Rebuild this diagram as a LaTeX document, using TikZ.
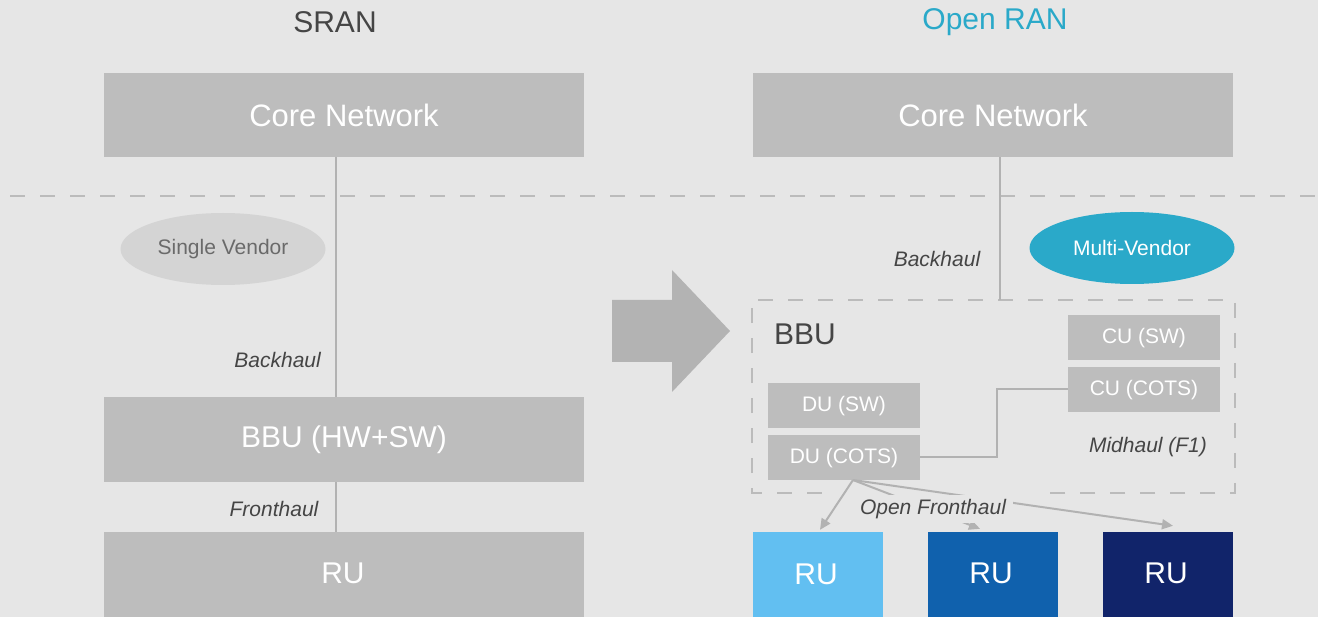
\documentclass[tikz,border=0pt]{standalone}
\usepackage{fontspec}
\setmainfont{Liberation Sans}
\usetikzlibrary{shapes.geometric,arrows.meta,calc}
\definecolor{bg}{HTML}{E6E6E6}
\definecolor{boxgray}{HTML}{BDBDBD}
\definecolor{linegray}{HTML}{B2B2B2}
\definecolor{dashgray}{HTML}{BBBBBB}
\definecolor{txtdark}{HTML}{454545}
\definecolor{ellgray}{HTML}{D4D4D4}
\definecolor{ellgraytxt}{HTML}{6A6A6A}
\definecolor{teal}{HTML}{2AA9C9}
\definecolor{arrowgray}{HTML}{B3B3B3}
\definecolor{ruA}{HTML}{62BFF1}
\definecolor{ruB}{HTML}{1061AD}
\definecolor{ruC}{HTML}{11246A}
\tikzset{
  big/.style={font=\fontsize{30}{36}\selectfont},
  small/.style={font=\fontsize{21}{25}\selectfont},
  label/.style={font=\fontsize{21}{25}\selectfont\itshape, text=txtdark, inner sep=0pt},
  greybox/.style={fill=boxgray, draw=none, text=white, inner sep=0pt},
  smallbox/.style={greybox, small, minimum width=152pt, minimum height=45pt, text height=15pt, text depth=3pt},
  rubox/.style={text=white, big, minimum width=130pt, minimum height=90pt, inner sep=0pt},
  conn/.style={draw=linegray, line width=2pt},
  fharrow/.style={draw=linegray, line width=2pt, -{Triangle[length=11pt,width=10pt]}},
  dashline/.style={draw=dashgray, line width=2pt, dash pattern=on 15pt off 15pt},
}
\begin{document}
\begin{tikzpicture}[x=1pt,y=-1pt]
\fill[bg] (0,0) rectangle (1318,617);
\useasboundingbox (0,0) rectangle (1318,617);

% titles
\node[big, text=txtdark] (tL) at (335,22) {SRAN};
\node[big, text=teal] (tR) at (995,22) {Open RAN};

% dashed separator
\draw[dashline] (10,196) -- (1318,196);

% left column
\node[greybox, font=\fontsize{31}{36}\selectfont, minimum width=480pt, minimum height=84pt] (coreL) at (344,115) {Core Network};
\node[ellipse, fill=ellgray, text=ellgraytxt, small, minimum width=205pt, minimum height=72pt, inner sep=0pt] (sv) at (223,249) {Single Vendor};
\node[greybox, big, minimum width=480pt, minimum height=85pt] (bbuL) at (344,439.5) {BBU (HW+SW)};
\node[greybox, minimum width=480pt, minimum height=90pt] (ruL) at (344,577) {};
\node[big, text=white] (ruLt) at (343,573) {RU};
\coordinate (lx) at (336,0);
\draw[conn] (coreL.south -| lx) -- (bbuL.north -| lx);
\draw[conn] (bbuL.south -| lx) -- (ruL.north -| lx);
\node[label, anchor=east] (bhL) at (321,360) {Backhaul};
\node[label] (fhL) at (274,509) {Fronthaul};

% big arrow
\fill[arrowgray] (612,300) -- (672,300) -- (672,270) -- (730,331) -- (672,392) -- (672,362) -- (612,362) -- cycle;

% right column
\node[greybox, font=\fontsize{31}{36}\selectfont, minimum width=480pt, minimum height=84pt] (coreR) at (993,115) {Core Network};
\node[ellipse, fill=teal, text=white, small, minimum width=205pt, minimum height=72pt, inner sep=0pt] (mv) at (1132,248) {Multi-Vendor};
\node[minimum width=483pt, minimum height=193pt, inner sep=0pt] (bbuR) at (993.5,396.5) {};
\draw[dashline] ($(bbuR.south west)+(70,0)$) -- (bbuR.south west) -- (bbuR.north west) -- (bbuR.north east) -- (bbuR.south east) -- ($(bbuR.south east)+(-188,0)$);
\node[big, text=txtdark, anchor=west, inner sep=0pt] (bbuRt) at (774,334) {BBU};
\coordinate (rx) at (1000,0);
\draw[conn] (coreR.south -| rx) -- (bbuR.north -| rx);
\node[label] (bhR) at (937,259) {Backhaul};

\node[smallbox] (cuS) at (1144,337.5) {CU (SW)};
\node[smallbox] (cuC) at (1144,389.5) {CU (COTS)};
\node[smallbox] (duS) at (844,405.5) {DU (SW)};
\node[smallbox] (duC) at (844,457.5) {DU (COTS)};
\draw[conn] (duC.east) -- (997,457.5) |- (cuC.west);
\node[label] (mh) at (1148,447) {Midhaul (F1)};

\node[rubox, fill=ruA] (ru1) at (818,577) {};
\node[rubox, fill=ruB] (ru2) at (993,577) {};
\node[rubox, fill=ruC] (ru3) at (1168,577) {};
\node[big, text=white] (ru1t) at (816,574) {RU};
\node[big, text=white] (ru2t) at (991,573) {RU};
\node[big, text=white] (ru3t) at (1166,573) {RU};

\coordinate (fo) at (853,480);
\draw[fharrow] (fo) -- ($(ru2.north)+(-13,-3)$);
\draw[fharrow] (fo) -- ($(ru3.north)+(5,-6)$);
\node[label, fill=bg, minimum width=160pt, minimum height=28pt] (ofh) at (933,509) {Open Fronthaul};
\draw[fharrow] (fo) -- ($(ru1.north)+(2,-2)$);
\end{tikzpicture}
\end{document}
